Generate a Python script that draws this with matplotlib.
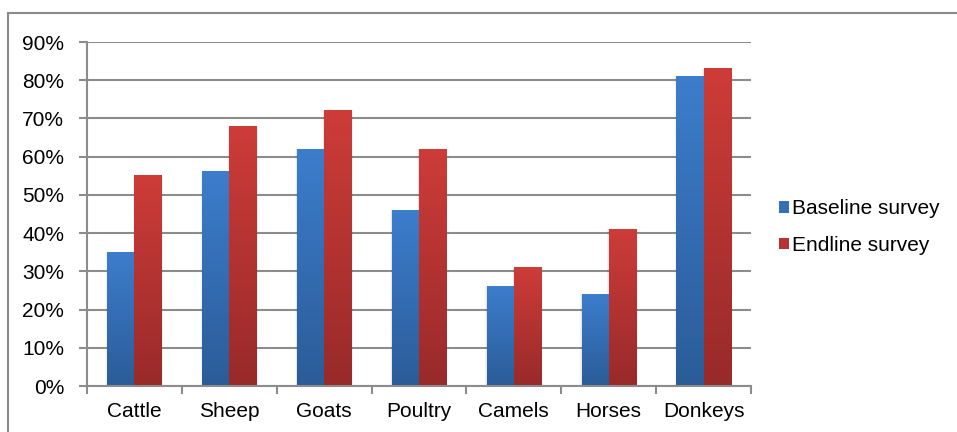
import numpy as np
import matplotlib
matplotlib.use("Agg")
import matplotlib.pyplot as plt
from matplotlib.colors import LinearSegmentedColormap
from matplotlib.patches import Patch, Rectangle
from matplotlib.ticker import FixedLocator, PercentFormatter
from matplotlib.lines import Line2D

categories = ["Cattle", "Sheep", "Goats", "Poultry", "Camels", "Horses", "Donkeys"]
baseline = [35, 56, 62, 46, 26, 24, 81]
endline = [55, 68, 72, 62, 31, 41, 83]
series_names = ["Baseline survey", "Endline survey"]
y_ticks = [0, 10, 20, 30, 40, 50, 60, 70, 80, 90]

plt.rcParams["font.family"] = ["Liberation Sans", "DejaVu Sans"]

W, H = 957, 432
fig = plt.figure(figsize=(W / 100, H / 100), dpi=100)

# outer frame of the chart area (open on the right and bottom)
fig.add_artist(Line2D([8 / W, 8 / W], [0, 1 - 13 / H], color="#8a8a8a", lw=1.5,
                      transform=fig.transFigure))
fig.add_artist(Line2D([8 / W, 1], [1 - 13 / H, 1 - 13 / H], color="#8a8a8a", lw=1.5,
                      transform=fig.transFigure))

left, right, bottom, top = 87 / W, 751 / W, (H - 386) / H, (H - 42) / H
ax = fig.add_axes([left, bottom, right - left, top - bottom])

x = np.arange(len(categories))
bw = 1 / 3.5

blue_cmap = LinearSegmentedColormap.from_list("b", ["#2b5c98", "#3c7dcc"])
red_cmap = LinearSegmentedColormap.from_list("r", ["#982a2a", "#cd3c38"])
grad = np.linspace(0, 1, 256).reshape(-1, 1)

def gradient_bars(xs, vals, cmap):
    for xi, v in zip(xs, vals):
        # soft side shadow
        for k, a in enumerate([0.05, 0.03, 0.015]):
            pad = 0.007 * (k + 1)
            ax.add_patch(Rectangle((xi - pad, 0), bw + 2 * pad, v,
                                   facecolor="black", alpha=a, lw=0, zorder=2))
        ax.imshow(grad, cmap=cmap, aspect="auto", origin="lower",
                  extent=(xi, xi + bw, 0, v), zorder=3, interpolation="bilinear")

gradient_bars(x - bw, baseline, blue_cmap)
gradient_bars(x, endline, red_cmap)

ax.set_xlim(-0.5, len(categories) - 0.5)
ax.set_ylim(0, 90)

ax.yaxis.set_major_locator(FixedLocator(y_ticks))
ax.yaxis.set_major_formatter(PercentFormatter(decimals=0))
ax.set_xticks(np.arange(-0.5, len(categories), 1.0))
ax.set_xticklabels([])
ax.set_xticks(x, minor=True)
ax.set_xticklabels(categories, minor=True)

ax.grid(axis="y", color="#8c8c8c", lw=1.5, zorder=1)
ax.set_axisbelow(True)
for s in ["top", "right"]:
    ax.spines[s].set_visible(False)
for s in ["left", "bottom"]:
    ax.spines[s].set_color("#8c8c8c")
    ax.spines[s].set_linewidth(1.5)
    ax.spines[s].set_zorder(4)

ax.tick_params(axis="y", which="major", length=6, width=1.5, color="#8c8c8c",
               labelsize=15, pad=10.5, labelcolor="black")
ax.tick_params(axis="x", which="major", length=6, width=1.5, color="#8c8c8c")
ax.tick_params(axis="x", which="minor", length=0, labelsize=15, pad=11.5,
               labelcolor="black")

handles = [Patch(facecolor="#3570b8", edgecolor="none"),
           Patch(facecolor="#b83232", edgecolor="none")]
fig.legend(handles, series_names, loc="center left",
           bbox_to_anchor=(779 / W, 1 - 227 / H), frameon=False,
           fontsize=15, handlelength=0.48, handleheight=0.48,
           handletextpad=0.12, labelspacing=0.84, borderaxespad=0,
           borderpad=0)

fig.savefig("out.png", dpi=100)
